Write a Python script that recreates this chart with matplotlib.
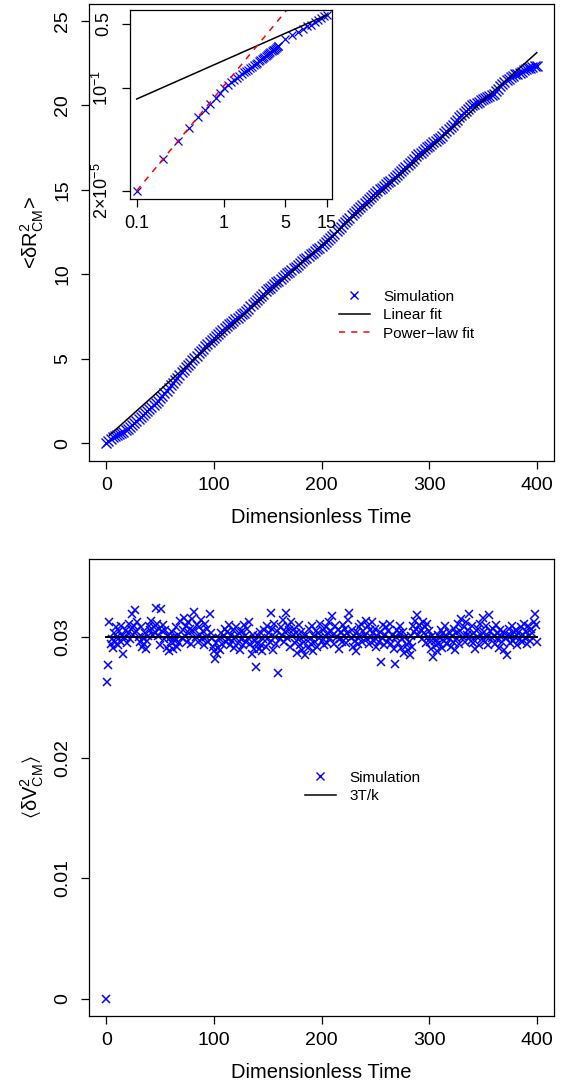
import numpy as np
import matplotlib
matplotlib.use("Agg")
import matplotlib.pyplot as plt
from matplotlib.lines import Line2D

plt.rcParams['font.family'] = ['Liberation Sans', 'DejaVu Sans']
plt.rcParams['mathtext.default'] = 'regular'

# --- mean squared displacement of the centre of mass, sampled every 2 time units ---
msd_step = 2
msd = [
    0.00, 0.17, 0.29, 0.38, 0.44, 0.49, 0.55, 0.61, 0.68, 0.77,
    0.87, 0.98, 1.09, 1.20, 1.32, 1.44, 1.56, 1.68, 1.80, 1.92,
    2.04, 2.16, 2.28, 2.41, 2.54, 2.67, 2.82, 2.97, 3.13, 3.28,
    3.44, 3.60, 3.75, 3.90, 4.06, 4.21, 4.36, 4.50, 4.64, 4.79,
    4.93, 5.06, 5.20, 5.33, 5.47, 5.60, 5.74, 5.87, 6.01, 6.14,
    6.27, 6.38, 6.50, 6.61, 6.73, 6.84, 6.94, 7.05, 7.15, 7.26,
    7.36, 7.45, 7.55, 7.64, 7.74, 7.83, 7.97, 8.11, 8.24, 8.37,
    8.50, 8.63, 8.75, 8.87, 9.00, 9.12, 9.22, 9.33, 9.43, 9.54,
    9.64, 9.74, 9.85, 9.95, 10.06, 10.16, 10.26, 10.37, 10.47, 10.58,
    10.68, 10.78, 10.89, 10.99, 11.10, 11.20, 11.29, 11.39, 11.48, 11.58,
    11.67, 11.79, 11.92, 12.04, 12.17, 12.29, 12.42, 12.56, 12.69, 12.83,
    12.96, 13.09, 13.23, 13.36, 13.50, 13.63, 13.75, 13.88, 14.00, 14.13,
    14.25, 14.36, 14.48, 14.59, 14.71, 14.82, 14.92, 15.03, 15.13, 15.24,
    15.34, 15.44, 15.55, 15.65, 15.76, 15.86, 15.98, 16.11, 16.23, 16.36,
    16.48, 16.60, 16.73, 16.85, 16.98, 17.10, 17.20, 17.31, 17.41, 17.52,
    17.62, 17.71, 17.81, 17.90, 18.00, 18.09, 18.21, 18.34, 18.46, 18.59,
    18.71, 18.85, 19.00, 19.14, 19.29, 19.43, 19.54, 19.66, 19.77, 19.89,
    20.00, 20.07, 20.15, 20.22, 20.30, 20.37, 20.43, 20.50, 20.56, 20.63,
    20.69, 20.83, 20.98, 21.12, 21.27, 21.41, 21.49, 21.58, 21.66, 21.75,
    21.83, 21.88, 21.93, 22.00, 22.07, 22.15, 22.19, 22.23, 22.27, 22.31,
    22.35,
]

# linear fit  a + b t
lin_a = 0.32
lin_b = 0.057
lin_t = [3.0, 400.0]

# --- short-time data for the log-log inset ---
inset_t = [0.1, 0.2, 0.3, 0.4, 0.5, 0.6, 0.7, 0.8, 0.9, 1.0,
           1.1, 1.2, 1.3, 1.4, 1.5, 1.6, 1.7, 1.8, 1.9, 2.0,
           2.1, 2.2, 2.3, 2.4, 2.5, 2.6, 2.7, 2.8, 2.9, 3.0,
           3.1, 3.2, 3.3, 3.4, 3.5, 3.6, 3.7, 3.8, 3.9, 4.0,
           4.1, 4.2,
           5, 6, 7, 8, 9, 10, 11, 12, 13, 14, 15]
inset_msd = [0.0077, 0.0169, 0.0269, 0.0373, 0.0485, 0.058, 0.0675, 0.0778, 0.0897, 0.100,
             0.108, 0.116, 0.123, 0.130, 0.137, 0.143, 0.149, 0.155, 0.160, 0.166,
             0.172, 0.178, 0.184, 0.190, 0.196, 0.202, 0.208, 0.214, 0.220, 0.226,
             0.231, 0.237, 0.242, 0.248, 0.253, 0.258, 0.264, 0.269, 0.274, 0.280,
             0.285, 0.290,
             0.34, 0.38, 0.41, 0.44, 0.47, 0.49, 0.52, 0.55, 0.58, 0.61, 0.63]
# power-law fit c t^p (red) and the straight reference line in the inset (black)
pow_c, pow_p = 0.107, 1.143
pow_t = [0.1, 8.0]
inlin_c, inlin_p = 0.201, 0.4195
inlin_t = [0.1, 15.0]

inset_xticks = [0.1, 1, 5, 15]
inset_xlabels = ['0.1', '1', '5', '15']
inset_yticks = [0.0077, 0.1, 0.5]
inset_ylabels = [r'2$\times$10$^{-5}$', r'10$^{-1}$', '0.5']

# --- centre-of-mass velocity fluctuation, one value per time unit ---
vcm = [
    0.0, 0.0263, 0.0277, 0.0312, 0.0294, 0.0298, 0.0291, 0.0303, 0.0296, 0.0308, 0.0300, 0.0293, 0.0305, 0.0297, 0.0309, 0.0301, 0.0286, 0.0299, 0.0306, 0.0295,
    0.0303, 0.0311, 0.0298, 0.0307, 0.0319, 0.0302, 0.0309, 0.0322, 0.0305, 0.0312, 0.0300, 0.0296, 0.0308, 0.0292, 0.0299, 0.0294, 0.0303, 0.0290, 0.0297, 0.0301,
    0.0309, 0.0306, 0.0313, 0.0302, 0.0308, 0.0304, 0.0324, 0.0311, 0.0301, 0.0307, 0.0293, 0.0323, 0.0305, 0.0310, 0.0298, 0.0306, 0.0291, 0.0302, 0.0288, 0.0299,
    0.0296, 0.0304, 0.0290, 0.0300, 0.0297, 0.0308, 0.0292, 0.0302, 0.0295, 0.0313, 0.0299, 0.0306, 0.0316, 0.0301, 0.0309, 0.0296, 0.0312, 0.0303, 0.0307, 0.0294,
    0.0315, 0.0305, 0.0321, 0.0300, 0.0310, 0.0296, 0.0308, 0.0302, 0.0314, 0.0298, 0.0305, 0.0293, 0.0311, 0.0300, 0.0307, 0.0296, 0.0319, 0.0303, 0.0299, 0.0292,
    0.0288, 0.0282, 0.0295, 0.0286, 0.0291, 0.0299, 0.0289, 0.0303, 0.0294, 0.0301, 0.0307, 0.0296, 0.0304, 0.0298, 0.0310, 0.0293, 0.0302, 0.0297, 0.0306, 0.0291,
    0.0300, 0.0308, 0.0295, 0.0303, 0.0289, 0.0298, 0.0305, 0.0293, 0.0310, 0.0301, 0.0296, 0.0307, 0.0299, 0.0312, 0.0294, 0.0286, 0.0302, 0.0290, 0.0297, 0.0275,
    0.0295, 0.0301, 0.0290, 0.0304, 0.0293, 0.0288, 0.0298, 0.0306, 0.0292, 0.0309, 0.0299, 0.0303, 0.0296, 0.0320, 0.0307, 0.0289, 0.0311, 0.0300, 0.0294, 0.0305,
    0.0270, 0.0298, 0.0308, 0.0302, 0.0314, 0.0296, 0.0304, 0.0320, 0.0299, 0.0309, 0.0306, 0.0292, 0.0312, 0.0301, 0.0307, 0.0295, 0.0303, 0.0287, 0.0298, 0.0310,
    0.0293, 0.0304, 0.0289, 0.0300, 0.0296, 0.0285, 0.0302, 0.0291, 0.0307, 0.0298, 0.0294, 0.0309, 0.0288, 0.0301, 0.0296, 0.0305, 0.0292, 0.0303, 0.0299, 0.0311,
    0.0297, 0.0306, 0.0293, 0.0301, 0.0308, 0.0295, 0.0303, 0.0312, 0.0299, 0.0305, 0.0317, 0.0302, 0.0294, 0.0309, 0.0300, 0.0306, 0.0290, 0.0298, 0.0304, 0.0296,
    0.0310, 0.0301, 0.0307, 0.0295, 0.0303, 0.0314, 0.0320, 0.0299, 0.0306, 0.0292, 0.0301, 0.0297, 0.0288, 0.0304, 0.0294, 0.0308, 0.0300, 0.0311, 0.0296, 0.0305,
    0.0302, 0.0313, 0.0298, 0.0309, 0.0294, 0.0306, 0.0300, 0.0312, 0.0303, 0.0297, 0.0307, 0.0292, 0.0301, 0.0296, 0.0304, 0.0279, 0.0299, 0.0310, 0.0293, 0.0302,
    0.0308, 0.0296, 0.0305, 0.0299, 0.0311, 0.0294, 0.0302, 0.0290, 0.0278, 0.0300, 0.0306, 0.0295, 0.0303, 0.0309, 0.0291, 0.0298, 0.0304, 0.0287, 0.0300, 0.0293,
    0.0289, 0.0296, 0.0285, 0.0301, 0.0292, 0.0309, 0.0304, 0.0313, 0.0307, 0.0318, 0.0302, 0.0310, 0.0306, 0.0298, 0.0312, 0.0303, 0.0308, 0.0295, 0.0311, 0.0300,
    0.0305, 0.0296, 0.0290, 0.0301, 0.0283, 0.0297, 0.0293, 0.0288, 0.0302, 0.0295, 0.0299, 0.0306, 0.0291, 0.0303, 0.0297, 0.0309, 0.0300, 0.0294, 0.0304, 0.0298,
    0.0292, 0.0301, 0.0296, 0.0307, 0.0289, 0.0303, 0.0298, 0.0311, 0.0294, 0.0305, 0.0315, 0.0300, 0.0308, 0.0296, 0.0312, 0.0302, 0.0306, 0.0319, 0.0301, 0.0297,
    0.0309, 0.0295, 0.0303, 0.0290, 0.0300, 0.0307, 0.0293, 0.0311, 0.0302, 0.0298, 0.0316, 0.0304, 0.0296, 0.0309, 0.0300, 0.0293, 0.0318, 0.0305, 0.0299, 0.0307,
    0.0301, 0.0294, 0.0310, 0.0298, 0.0303, 0.0291, 0.0306, 0.0300, 0.0296, 0.0304, 0.0289, 0.0299, 0.0285, 0.0302, 0.0307, 0.0295, 0.0301, 0.0309, 0.0297, 0.0304,
    0.0300, 0.0306, 0.0293, 0.0303, 0.0298, 0.0308, 0.0296, 0.0302, 0.0311, 0.0299, 0.0305, 0.0294, 0.0309, 0.0301, 0.0297, 0.0307, 0.0303, 0.0312, 0.0319, 0.0310,
    0.0296,
]
equip = 0.03  # 3T/k
equip_t = [0, 400]

xticks = [0, 100, 200, 300, 400]
top_yticks = [0, 5, 10, 15, 20, 25]
bot_yticks = [0, 0.01, 0.02, 0.03]
bot_ylabels = ['0', '0.01', '0.02', '0.03']

BLUE = '#0000ff'
W, H = 563, 1086


def box(l, t, r, b):
    return [l / W, 1 - b / H, (r - l) / W, (b - t) / H]


def style_axis(ax, fs):
    for s in ax.spines.values():
        s.set_linewidth(0.9)
    ax.tick_params(direction='out', length=5.8, width=0.9, labelsize=fs, pad=6)
    ax.tick_params(axis='y', pad=7)
    for lab in ax.get_yticklabels():
        lab.set_rotation(90)
        lab.set_va('center')


fig = plt.figure(figsize=(W / 100, H / 100), dpi=100)

# ---------------- top panel ----------------
ax1 = fig.add_axes(box(89, 4, 554, 461))
t_msd = np.arange(len(msd)) * msd_step
ax1.plot(t_msd, msd, 'x', color=BLUE, ms=7, mew=1.0, label='Simulation')
lt = np.array(lin_t)
ax1.plot(lt, lin_a + lin_b * lt, color='black', lw=1.1, label='Linear fit')
ax1.set_xlim(-16, 416)
ax1.set_ylim(-1.036, 26.0)
ax1.set_xticks(xticks)
ax1.set_yticks(top_yticks)
style_axis(ax1, 14)
ax1.set_xlabel('Dimensionless Time', fontsize=14.5, labelpad=10)
ax1.set_ylabel(r'<$\delta R^2_{CM}$>', fontsize=14.5, labelpad=6)

handles = [Line2D([], [], ls='none', marker='x', color=BLUE, ms=5.5, mew=1.0),
           Line2D([], [], color='black', lw=1.1),
           Line2D([], [], color='red', lw=1.1, ls=(0, (4, 4)))]
ax1.legend(handles, ['Simulation', 'Linear fit', 'Power\u2212law fit'],
           loc='center left', bbox_to_anchor=(0.538, 0.319), frameon=False,
           fontsize=11, handlelength=2.0, handletextpad=0.9, labelspacing=0.3,
           borderpad=0, borderaxespad=0)

# inset
axi = fig.add_axes(box(130, 10, 332, 199))
axi.set_xscale('log')
axi.set_yscale('log')
axi.plot(inset_t, inset_msd, 'x', color=BLUE, ms=6, mew=0.9)
it = np.geomspace(inlin_t[0], inlin_t[1], 50)
axi.plot(it, inlin_c * it ** inlin_p, color='black', lw=1.1)
pt = np.geomspace(pow_t[0], pow_t[1], 50)
axi.plot(pt, pow_c * pt ** pow_p, color='red', lw=1.1, ls=(0, (4, 4)))
axi.set_xlim(10 ** -1.077, 10 ** 1.237)
axi.set_ylim(10 ** -2.203, 10 ** -0.149)
axi.xaxis.set_minor_locator(matplotlib.ticker.NullLocator())
axi.yaxis.set_minor_locator(matplotlib.ticker.NullLocator())
axi.set_xticks(inset_xticks)
axi.set_xticklabels(inset_xlabels)
axi.set_yticks(inset_yticks)
axi.set_yticklabels(inset_ylabels)
style_axis(axi, 13)

# ---------------- bottom panel ----------------
ax2 = fig.add_axes(box(89, 559, 554, 1016))
ax2.plot(np.arange(len(vcm)), vcm, 'x', color=BLUE, ms=6, mew=1.1, label='Simulation')
ax2.plot(equip_t, [equip, equip], color='black', lw=1.4, label='3T/k')
ax2.set_xlim(-16, 416)
ax2.set_ylim(-0.00141, 0.03646)
ax2.set_xticks(xticks)
ax2.set_yticks(bot_yticks)
ax2.set_yticklabels(bot_ylabels)
style_axis(ax2, 14)
ax2.set_xlabel('Dimensionless Time', fontsize=14.5, labelpad=10)
ax2.set_ylabel(r'$\langle\delta V^2_{CM}\rangle$', fontsize=14.5, labelpad=6)
handles2 = [Line2D([], [], ls='none', marker='x', color=BLUE, ms=5.5, mew=1.0),
            Line2D([], [], color='black', lw=1.1)]
ax2.legend(handles2, ['Simulation', '3T/k'],
           loc='center left', bbox_to_anchor=(0.4645, 0.501), frameon=False,
           fontsize=11, handlelength=2.0, handletextpad=0.9, labelspacing=0.3,
           borderpad=0, borderaxespad=0)

fig.savefig('out.png', dpi=100)
